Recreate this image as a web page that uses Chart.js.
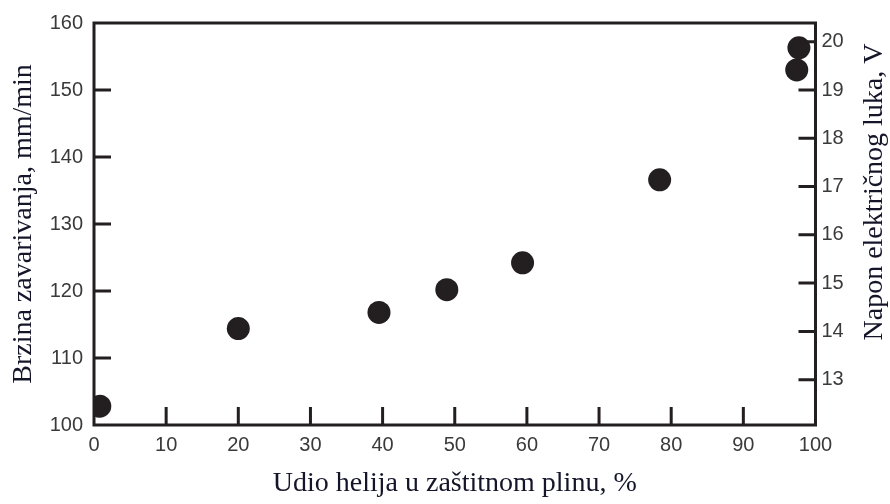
<!DOCTYPE html>
<html>
<head>
<meta charset="utf-8">
<script src="https://cdn.jsdelivr.net/npm/chart.js@4"></script>
<style>
  html, body { margin: 0; padding: 0; background: #fff; }
  canvas { display: block; }
</style>
</head>
<body>
<canvas id="grafico" width="890" height="504"></canvas>
<script>
// podaci
const udioHelija = [0.8, 20, 39.5, 48.9, 59.4, 78.4, 97.4, 97.7]
const brzina = [102.8, 114.4, 116.8, 120.2, 124.2, 136.6, 153.0, 156.3]
const xTicks = [0, 10, 20, 30, 40, 50, 60, 70, 80, 90, 100]
const lijeviTicks = [100, 110, 120, 130, 140, 150, 160]
const desniTicks = [13, 14, 15, 16, 17, 18, 19, 20]

const naslovX = "Udio helija u zaštitnom plinu, %"
const naslovLijevo = "Brzina zavarivanja, mm/min"
const naslovDesno = "Napon električnog luka, V"

const tamno = "#231f20"
const tekst = "#15152a"
const tickBoja = "#3a3a3a"

const tickFont = { family: "'Liberation Sans', Arial, sans-serif", size: 20 }
const naslovFont = { family: "'Liberation Serif', 'Times New Roman', serif", size: 28 }

// okvir + unutarnje crtice + desni naslov
const okvir = {
    id: "okvir",
    afterDraw(chart) {
        const { ctx, chartArea: a, scales } = chart
        ctx.save()
        ctx.strokeStyle = tamno
        ctx.lineWidth = 3
        ctx.lineCap = "butt"

        ctx.beginPath()
        scales.x.ticks.forEach(t => {
            if (t.value <= 0 || t.value >= 100) return
            const px = scales.x.getPixelForValue(t.value)
            ctx.moveTo(px, a.bottom)
            ctx.lineTo(px, a.bottom - 18)
        })
        scales.y.ticks.forEach(t => {
            if (t.value <= 100 || t.value >= 160) return
            const py = scales.y.getPixelForValue(t.value)
            ctx.moveTo(a.left, py)
            ctx.lineTo(a.left + 17, py)
        })
        scales.y2.ticks.forEach(t => {
            const py = scales.y2.getPixelForValue(t.value)
            ctx.moveTo(a.right, py)
            ctx.lineTo(a.right - 17, py)
        })
        ctx.stroke()

        ctx.strokeRect(a.left, a.top, a.right - a.left, a.bottom - a.top)

        // desni naslov, čita se odozdo prema gore
        ctx.translate(874.5, 192)
        ctx.rotate(-Math.PI / 2)
        ctx.fillStyle = tekst
        ctx.font = naslovFont.size + "px " + naslovFont.family
        ctx.textAlign = "center"
        ctx.textBaseline = "middle"
        ctx.fillText(naslovDesno, 0, 0)
        ctx.restore()
    }
}

new Chart(document.getElementById("grafico"), {
    type: "scatter",
    data: {
        datasets: [{
            data: udioHelija.map((x, i) => ({ x, y: brzina[i] })),
            yAxisID: "y",
            backgroundColor: tamno,
            borderWidth: 0,
            pointRadius: 11.5,
            pointHoverRadius: 11.5
        }]
    },
    options: {
        responsive: false,
        animation: false,
        layout: { padding: { top: 17.5, left: 0, right: 0, bottom: 0 } },
        plugins: { legend: { display: false }, tooltip: { enabled: false } },
        scales: {
            x: {
                type: "linear",
                position: "bottom",
                min: 0,
                max: 100,
                afterBuildTicks: s => { s.ticks = xTicks.map(v => ({ value: v })) },
                afterFit: s => { s.height = 79 },
                grid: { display: false, drawTicks: false },
                border: { display: false },
                ticks: { color: tickBoja, font: tickFont, padding: 8, maxRotation: 0 },
                title: { display: true, text: naslovX, color: tekst, font: naslovFont, padding: { top: 0, bottom: 4 } }
            },
            y: {
                type: "linear",
                position: "left",
                min: 100,
                max: 160,
                afterBuildTicks: s => { s.ticks = lijeviTicks.map(v => ({ value: v })) },
                afterFit: s => { s.width = 94 },
                grid: { display: false, drawTicks: false },
                border: { display: false },
                ticks: { color: tickBoja, font: tickFont, padding: 11 },
                title: { display: true, text: naslovLijevo, color: tekst, font: naslovFont, padding: { top: 7, bottom: 0 } }
            },
            y2: {
                type: "linear",
                position: "right",
                min: 12.06,
                max: 20.39,
                afterBuildTicks: s => { s.ticks = desniTicks.map(v => ({ value: v })) },
                afterFit: s => { s.width = 74.5 },
                grid: { display: false, drawTicks: false },
                border: { display: false },
                ticks: { color: tickBoja, font: tickFont, padding: 6 }
            }
        }
    },
    plugins: [okvir]
})
</script>
</body>
</html>
